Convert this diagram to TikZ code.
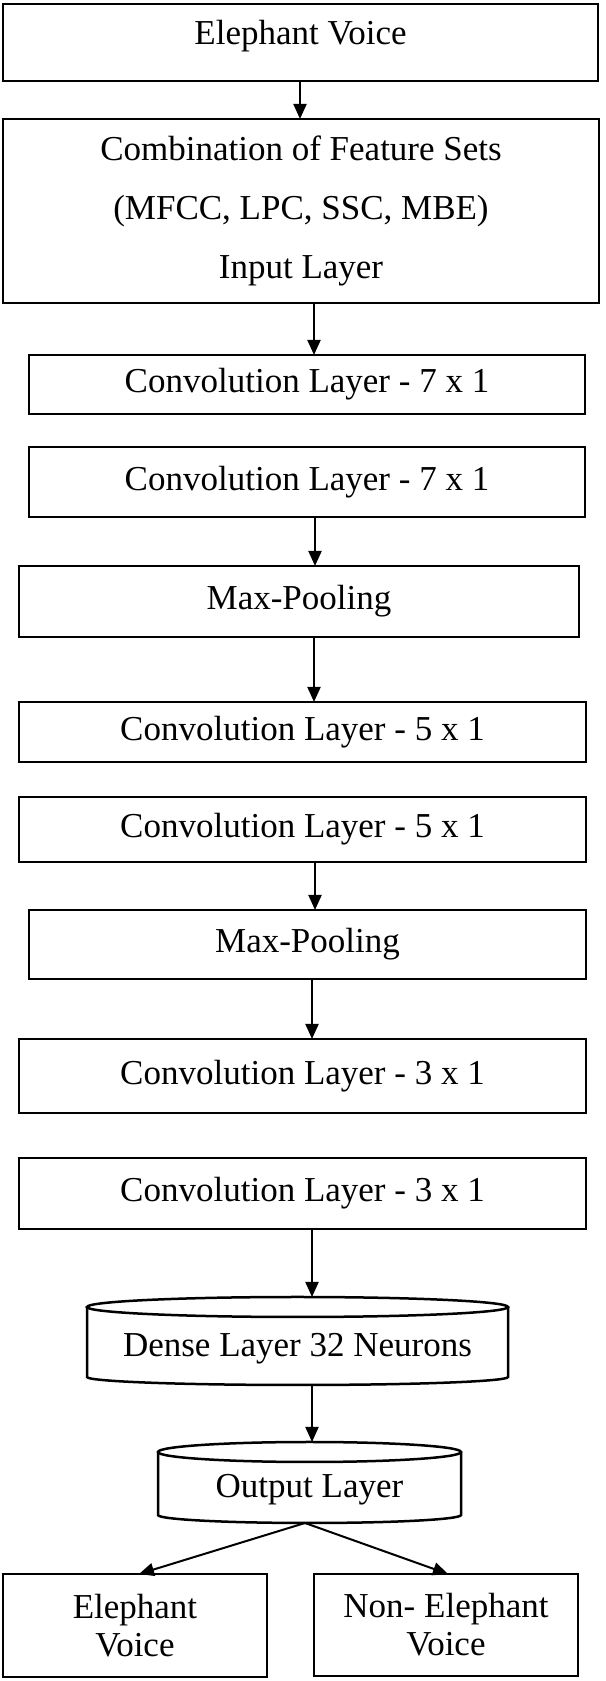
\documentclass[tikz,border=0pt]{standalone}
\usepackage{fontspec}
\setmainfont{Liberation Serif}
\usetikzlibrary{arrows.meta}

% cylinder outline round an (undrawn) node
\newcommand{\drum}[2]{%
        \draw[drumline] ([yshift=-10pt]#1.north west) -- ([yshift=8pt]#1.south west)
                arc[start angle=180, end angle=360, x radius=#2pt, y radius=8pt]
                -- ([yshift=-10pt]#1.north east);
        \draw[drumline] ([yshift=-10pt]#1.north) ellipse [x radius=#2pt, y radius=10pt];
}

\begin{document}
\begin{tikzpicture}[x=1pt, y=1pt,
        layer/.style={draw, line width=2.5pt, rectangle, inner sep=0pt, outer sep=0pt,
                font=\fontsize{35}{59}\selectfont, align=center},
        drumbox/.style={rectangle, inner sep=0pt, outer sep=0pt, font=\fontsize{35}{59}\selectfont},
        drumline/.style={line width=2.5pt},
        flow/.style={-{Triangle[length=15pt, width=13pt]}, line width=2pt}]

        \useasboundingbox (0,0) rectangle (605,1681);

        \node[layer, minimum width=595pt, minimum height=77pt, text height=25pt, text depth=20pt]
                (voice) at (300.5,1638.5) {Elephant Voice};
        \node[layer, minimum width=596pt, minimum height=184pt]
                (feat) at (301,1470) {Combination of Feature Sets\\(MFCC, LPC, SSC, MBE)\\Input Layer};

        \node[layer, minimum width=556pt, minimum height=59pt] (conv7a) at (307,1296.5) {Convolution Layer - 7 x 1};
        \node[layer, minimum width=556pt, minimum height=70pt] (conv7b) at (307,1199) {Convolution Layer - 7 x 1};
        \node[layer, minimum width=560pt, minimum height=71pt] (pool1) at (299,1079.5) {Max-Pooling};

        \node[layer, minimum width=567pt, minimum height=60pt] (conv5a) at (302.5,949) {Convolution Layer - 5 x 1};
        \node[layer, minimum width=567pt, minimum height=65pt] (conv5b) at (302.5,851.5) {Convolution Layer - 5 x 1};
        \node[layer, minimum width=557pt, minimum height=69pt] (pool2) at (307.5,736.5) {Max-Pooling};

        \node[layer, minimum width=567pt, minimum height=74pt] (conv3a) at (302.5,605) {Convolution Layer - 3 x 1};
        \node[layer, minimum width=567pt, minimum height=71pt] (conv3b) at (302.5,487.5) {Convolution Layer - 3 x 1};

        \node[drumbox, minimum width=421pt, minimum height=88pt, text height=36pt, text depth=5pt]
                (dense) at (297.5,340) {Dense Layer 32 Neurons};
        \drum{dense}{210.5}
        \node[drumbox, minimum width=303pt, minimum height=81pt, text height=35pt, text depth=5pt]
                (out) at (309.5,198.5) {Output Layer};
        \drum{out}{151.5}

        \node[layer, minimum width=264pt, minimum height=103pt, font=\fontsize{35}{38}\selectfont]
                (yes) at (135,55.5) {Elephant\\Voice};
        \node[layer, minimum width=264pt, minimum height=102pt, font=\fontsize{35}{38}\selectfont]
                (no) at (446,56) {Non- Elephant\\Voice};

        \draw[flow] ([xshift=-0.5pt]voice.south) -- ([xshift=-1pt]feat.north);
        \draw[flow] ([xshift=13pt]feat.south) -- ([xshift=7pt]conv7a.north);
        \draw[flow] ([xshift=8pt]conv7b.south) -- ([xshift=16pt]pool1.north);
        \draw[flow] ([xshift=15pt]pool1.south) -- ([xshift=11.5pt]conv5a.north);
        \draw[flow] ([xshift=12.5pt]conv5b.south) -- ([xshift=7.5pt]pool2.north);
        \draw[flow] ([xshift=4.5pt]pool2.south) -- ([xshift=9.5pt]conv3a.north);
        \draw[flow] ([xshift=9.5pt]conv3b.south) -- ([xshift=14.5pt]dense.north);
        \draw[flow] ([xshift=14.5pt]dense.south) -- ([xshift=2.5pt]out.north);

        \draw[flow] ([xshift=-4.5pt]out.south) -- ([xshift=4pt]yes.north);
        \draw[flow] ([xshift=-4.5pt]out.south) -- ([xshift=2pt]no.north);
\end{tikzpicture}
\end{document}
